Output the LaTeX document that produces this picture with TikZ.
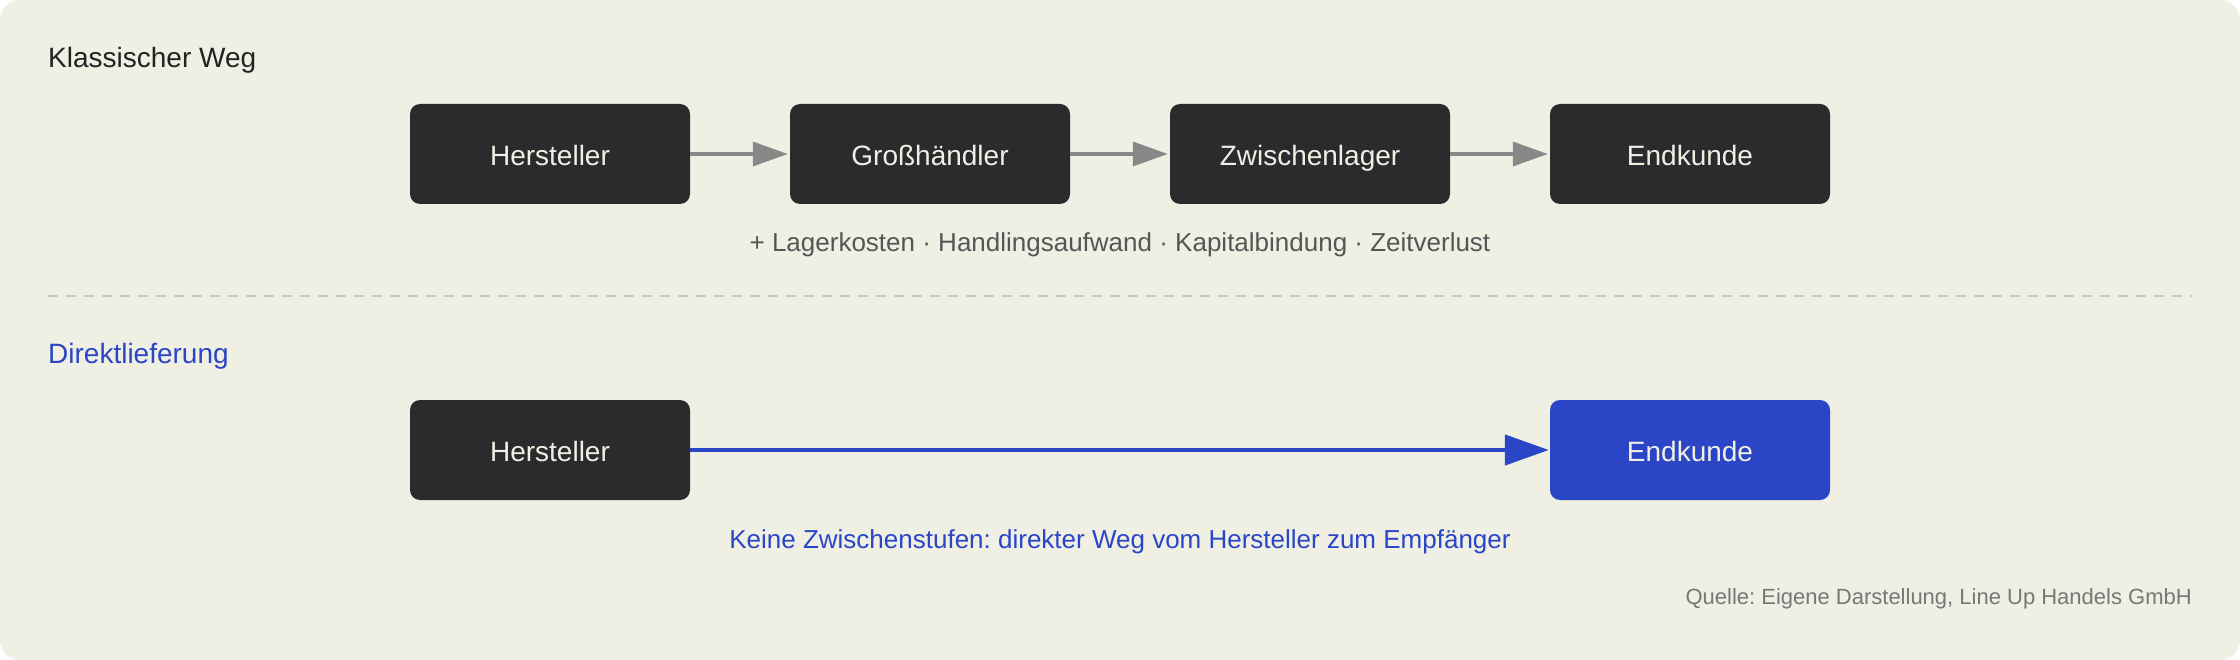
\documentclass[tikz,border=0pt]{standalone}
\usepackage{fontspec}
\setmainfont{Liberation Sans}
\usetikzlibrary{arrows.meta}
\frenchspacing
\definecolor{bgc}{HTML}{F0EFE4}
\definecolor{boxc}{HTML}{2B2B2E}
\definecolor{boxtext}{HTML}{F0EFE4}
\definecolor{arrowgrey}{HTML}{888888}
\definecolor{blue}{HTML}{2A45C6}
\definecolor{dashc}{HTML}{C8C8C6}
\definecolor{titlec}{HTML}{222222}
\definecolor{notec}{HTML}{555555}
\definecolor{srcc}{HTML}{777777}
\tikzset{
  stepbox/.style={rectangle, rounded corners=10pt, fill=boxc, text=boxtext,
    minimum width=280pt, minimum height=100pt, inner sep=0pt,
    text height=23pt, text depth=0pt,
    font=\fontsize{28}{34}\selectfont},
  bluebox/.style={stepbox, fill=blue},
  greyarrow/.style={draw=arrowgrey, line width=3.5pt,
    -{Triangle[length=35pt,width=24pt]}, shorten >=2pt},
  bluearrow/.style={draw=blue, line width=4.5pt,
    -{Triangle[length=44pt,width=30pt]}, shorten >=1pt},
  heading/.style={anchor=base west, inner sep=0pt, font=\fontsize{28}{34}\selectfont},
  note/.style={anchor=base, inner sep=0pt, font=\fontsize{26}{32}\selectfont},
}
\begin{document}
\begin{tikzpicture}[x=1pt,y=-1pt]
\useasboundingbox (0,0) rectangle (2240,660);
\fill[white] (0,0) rectangle (2240,660);
\fill[bgc, rounded corners=20pt] (0,0) rectangle (2240,660);

\node[heading, text=titlec] (t1) at (48,68) {Klassischer Weg};
\node[stepbox] (h1) at (550,154) {Hersteller};
\node[stepbox] (g1) at (930,154) {Großhändler};
\node[stepbox] (z1) at (1310,154) {Zwischenlager};
\node[stepbox] (e1) at (1690,154) {Endkunde};
\draw[greyarrow] (h1.east) -- (g1.west);
\draw[greyarrow] (g1.east) -- (z1.west);
\draw[greyarrow] (z1.east) -- (e1.west);
\node[note, text=notec] (n1) at (1120,252) {+ Lagerkosten · Handlingsaufwand · Kapitalbindung · Zeitverlust};

\coordinate (d1) at (48,296);
\coordinate (d2) at (2192,296);
\draw[dashc, line width=2pt, dash pattern=on 10pt off 8pt] (d1) -- (d2);

\node[heading, text=blue] (t2) at (48,363) {Direktlieferung};
\node[stepbox] (h2) at (550,450) {Hersteller};
\node[bluebox] (e2) at (1690,450) {Endkunde};
\draw[bluearrow] (h2.east) -- (e2.west);
\node[note, text=blue] (n2) at (1120,548) {Keine Zwischenstufen: direkter Weg vom Hersteller zum Empfänger};

\node[anchor=base east, inner sep=0pt, text=srcc, font=\fontsize{22}{26}\selectfont] (src) at (2192,604) {Quelle: Eigene Darstellung, Line Up Handels GmbH};
\end{tikzpicture}
\end{document}
